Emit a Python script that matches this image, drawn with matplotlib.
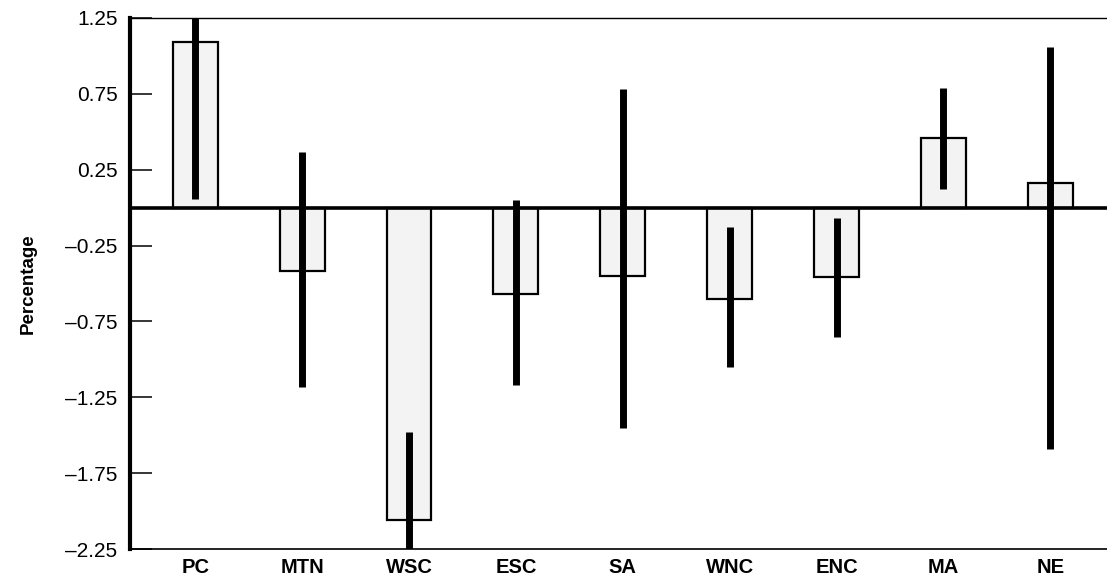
import matplotlib.pyplot as plt
import numpy as np

regions = ["PC", "MTN", "WSC", "ESC", "SA", "WNC", "ENC", "MA", "NE"]
values = [1.09, -0.42, -2.06, -0.57, -0.45, -0.60, -0.46, 0.46, 0.16]
err_low = [0.06, -1.18, -2.30, -1.17, -1.45, -1.05, -0.85, 0.12, -1.59]
err_high = [1.25, 0.37, -1.48, 0.05, 0.78, -0.13, -0.07, 0.79, 1.06]
yticks = [-2.25, -1.75, -1.25, -0.75, -0.25, 0.25, 0.75, 1.25]

plt.rcParams['font.family'] = ['Liberation Sans', 'DejaVu Sans']

fig = plt.figure(figsize=(11.07, 5.8), dpi=100)
ax = fig.add_axes([0.1174, 0.0534, 0.8826, 0.9156])

x = np.arange(len(regions))
ax.bar(x, values, width=0.42, color='#f3f3f3', edgecolor='black', linewidth=1.6, zorder=2)
ax.axhline(0, color='black', linewidth=2.6, zorder=3)
ax.vlines(x, err_low, err_high, color='black', linewidth=5, zorder=4)

ax.set_xlim(-0.61, 8.53)
ax.set_ylim(-2.25, 1.25)
ax.set_yticks(yticks)
ax.set_yticklabels([f"{t:.2f}".replace("-", "\u2013") for t in yticks], fontsize=15)
ax.tick_params(axis='y', direction='in', length=16, width=1.1, pad=9)
ax.set_xticks(x)
ax.set_xticklabels(regions, fontsize=14.5, fontweight='bold')
ax.tick_params(axis='x', length=0, pad=6.5)
ax.set_ylabel("Percentage", fontsize=13.5, fontweight='bold', labelpad=20)

ax.spines['right'].set_visible(False)
ax.spines['left'].set_linewidth(3)
ax.spines['top'].set_linewidth(1)
ax.spines['bottom'].set_linewidth(1.2)

plt.savefig("out.png", dpi=100)
